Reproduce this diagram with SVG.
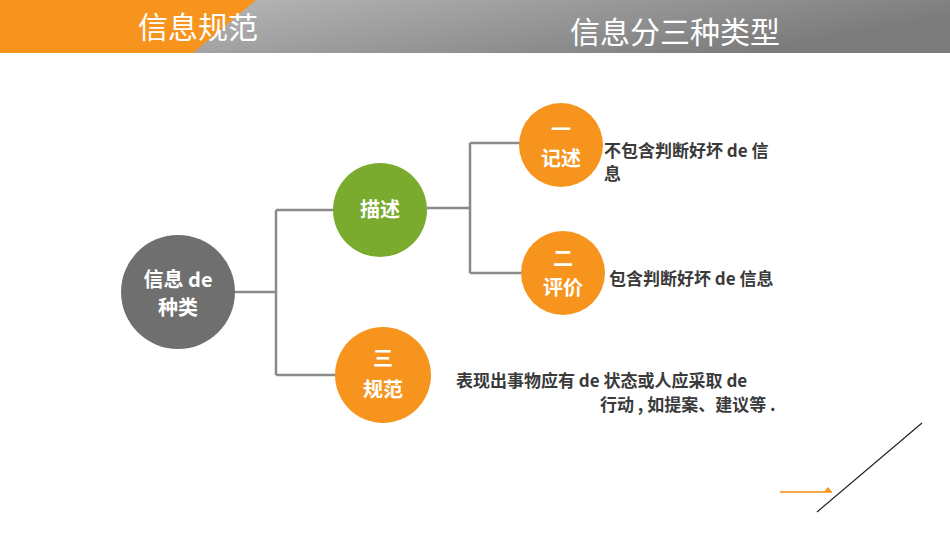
<svg xmlns="http://www.w3.org/2000/svg" width="950" height="535" viewBox="0 0 950 535">
<defs>
<linearGradient id="hg" x1="0" y1="0" x2="1" y2="0.3"><stop offset="0" stop-color="#c4c4c4"/><stop offset="1" stop-color="#7c7c7c"/></linearGradient>
</defs>
<style>
.t{font-family:"Noto Sans CJK SC",sans-serif;font-weight:bold;fill:#fff;font-size:20px;text-anchor:middle}
.d{font-family:"Noto Sans CJK SC",sans-serif;font-weight:bold;fill:#3a3a3a;font-size:17px}
.h{font-family:"Noto Sans CJK SC",sans-serif;fill:#fff;font-size:30px;text-anchor:middle}
.c{stroke:#8a8a8a;stroke-width:2.5;fill:none}
</style>
<rect width="950" height="535" fill="#fff"/>
<rect width="950" height="53" fill="url(#hg)"/>
<polygon points="0,0 256,0 193,53 0,53" fill="#f7941d"/>
<text class="h" x="198" y="38">信息规范</text>
<text class="h" x="675" y="43">信息分三种类型</text>
<g id="connectors">
<path class="c" d="M235,292H276M276,210V375M276,210H334M276,375H336M427,208H470M470,143V273M470,143H520M470,273H522"/>
</g>
<g id="root"><circle cx="178" cy="292" r="57" fill="#6f6f6f"/><text class="t" x="178" y="287">信息 de</text><text class="t" x="178" y="315">种类</text></g>
<g id="miaoshu"><circle cx="380" cy="210" r="47" fill="#7aab2e"/><text class="t" x="380" y="217">描述</text></g>
<g id="guifan"><circle cx="383" cy="375" r="48" fill="#f7941d"/><text class="t" x="383" y="366">三</text><text class="t" x="383" y="397">规范</text></g>
<g id="jishu"><circle cx="561" cy="145" r="42" fill="#f7941d"/><text class="t" x="561" y="137">一</text><text class="t" x="561" y="166">记述</text></g>
<g id="pingjia"><circle cx="563" cy="273" r="42" fill="#f7941d"/><text class="t" x="563" y="266">二</text><text class="t" x="563" y="295">评价</text></g>
<text class="d" x="604" y="157">不包含判断好坏 de 信</text>
<text class="d" x="604" y="180">息</text>
<text class="d" x="609" y="285">包含判断好坏 de 信息</text>
<text class="d" x="456" y="387">表现出事物应有 de 状态或人应采取 de</text>
<text class="d" x="600" y="411">行动 , 如提案、建议等 .</text>
<line x1="780" y1="492" x2="832" y2="492" stroke="#f7a840" stroke-width="2"/>
<polygon points="824,492 828,487 832,492" fill="#f7941d"/>
<line x1="817" y1="512" x2="922" y2="423" stroke="#222" stroke-width="1.2"/>
</svg>
